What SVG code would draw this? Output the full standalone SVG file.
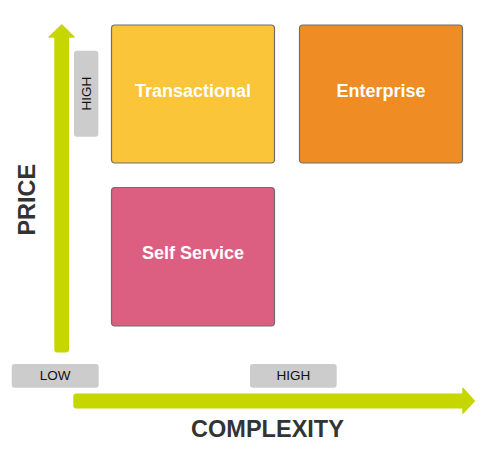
<svg xmlns="http://www.w3.org/2000/svg" width="500" height="458" viewBox="0 0 500 458">
<style>
.box{stroke:#6e6e6e;stroke-width:1.2}
.lbl{font-family:"Liberation Sans",Arial,sans-serif;font-weight:bold;font-size:18px;fill:#fff;text-anchor:middle}
.tag{fill:#cccccc}
.tagt{font-family:"Liberation Sans",Arial,sans-serif;font-size:13.5px;fill:#111;text-anchor:middle}
.axis{font-family:"Liberation Sans",Arial,sans-serif;font-weight:bold;font-size:23.5px;fill:#333;text-anchor:middle}
.arr{fill:#c5d600}
</style>
<rect width="500" height="458" fill="#fff"/>
<g id="connectors">
<g id="price-axis">
<rect class="arr" x="54.3" y="34" width="14.7" height="318.5" rx="3"/>
<path class="arr" d="M61.7,25 L74,37 L49.3,37 Z" stroke="#c5d600" stroke-width="1.5" stroke-linejoin="round"/>
</g>
<g id="complexity-axis">
<rect class="arr" x="73.3" y="393.5" width="392" height="15" rx="3"/>
<path class="arr" d="M463,388.5 L474.3,401 L463,413 Z" stroke="#c5d600" stroke-width="1.5" stroke-linejoin="round"/>
</g>
</g>
<g id="transactional">
<rect class="box" x="111.5" y="25" width="163" height="138" rx="3.5" fill="#fbc539"/>
<text class="lbl" x="193" y="96.5">Transactional</text>
</g>
<g id="enterprise">
<rect class="box" x="299.5" y="25" width="163" height="138" rx="3.5" fill="#ef8c23"/>
<text class="lbl" x="381" y="96.5">Enterprise</text>
</g>
<g id="self-service">
<rect class="box" x="111.5" y="187.5" width="163" height="138.5" rx="3.5" fill="#dc5e81"/>
<text class="lbl" x="193" y="259">Self Service</text>
</g>
<g id="price-high">
<rect class="tag" x="74" y="50.7" width="24.3" height="86" rx="3"/>
<text class="tagt" transform="translate(91,93.7) rotate(-90)" x="0" y="0">HIGH</text>
</g>
<g id="low">
<rect class="tag" x="11.7" y="364" width="87" height="23.7" rx="3"/>
<text class="tagt" x="55.2" y="379.5">LOW</text>
</g>
<g id="complexity-high">
<rect class="tag" x="250" y="364" width="86.7" height="23.7" rx="3"/>
<text class="tagt" x="293.3" y="379.5">HIGH</text>
</g>
<text class="axis" x="267.5" y="437">COMPLEXITY</text>
<text class="axis" transform="translate(34.5,199.7) rotate(-90)" x="0" y="0">PRICE</text>
</svg>
